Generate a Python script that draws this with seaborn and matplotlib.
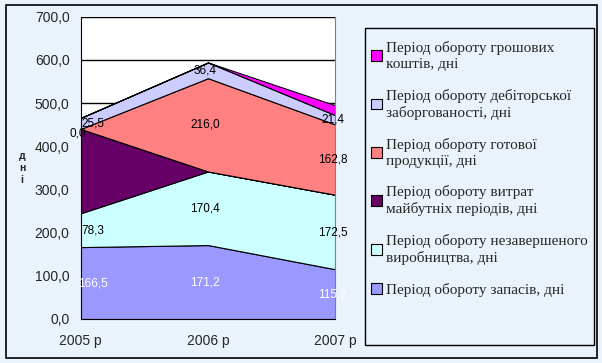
import matplotlib
matplotlib.use("Agg")
import matplotlib.pyplot as plt
from matplotlib.patches import Rectangle, Patch
import seaborn as sns
import numpy as np

# Data (bottom to top of the stack)
years = ["2005 р", "2006 р", "2007 р"]
zapasy = [166.5, 171.2, 115.2]
nezav = [78.3, 170.4, 172.5]
vytraty = [195.3, 0.0, 0.0]
gotova = [0.0, 216.0, 162.8]
debit = [25.5, 36.4, 21.4]
groshi = [0.0, 0.0, 23.0]

names = [
    "Період обороту запасів, дні",
    "Період обороту незавершеного\nвиробництва, дні",
    "Період обороту витрат\nмайбутніх періодів, дні",
    "Період обороту готової\nпродукції, дні",
    "Період обороту дебіторської\nзаборгованості, дні",
    "Період обороту грошових\nкоштів, дні",
]
colors = ["#9999FF", "#CCFFFF", "#660066", "#FF8080", "#CCCCFF", "#FF00FF"]
series = [zapasy, nezav, vytraty, gotova, debit, groshi]
# which series get value labels, and in which colour
label_colors = ["white", "black", None, "black", "black", None]

sns.set_style("white")
plt.rcParams["font.family"] = ["Liberation Sans", "DejaVu Sans"]

bg = "#EAF2FB"
fig = plt.figure(figsize=(6.02, 3.63), dpi=100, facecolor=bg)
W, H = 602, 363
ax = fig.add_axes([80.7 / W, 1 - 319 / H, (335.3 - 80.7) / W, (319 - 16.7) / H])
ax.set_facecolor("white")

x = np.arange(len(years))
ax.stackplot(x, *series, colors=colors, edgecolor="black", linewidth=0.8, zorder=2)

ax.set_xlim(0, 2)
ax.set_ylim(0, 700)
ax.set_yticks(np.arange(0, 701, 100))
ax.set_yticklabels([f"{v:.1f}".replace(".", ",") for v in np.arange(0, 701, 100)], fontsize=10)
ax.set_xticks(x)
ax.set_xticklabels(years, fontsize=10)
ax.tick_params(axis="both", direction="out", length=5, width=1, color="black", pad=3)
ax.tick_params(axis="x", pad=6)
for v in range(100, 701, 100):
    ax.axhline(v, color="black", lw=1, zorder=1)
ax.spines["top"].set_visible(False)
ax.spines["right"].set_color("#808080")
ax.spines["left"].set_color("black")
ax.spines["bottom"].set_color("black")
ax.spines["left"].set_zorder(3)
ax.spines["bottom"].set_zorder(3)

# value labels in the middle of each band
bottom = np.zeros(3)
for vals, lc in zip(series, label_colors):
    vals = np.array(vals)
    mid = bottom + vals / 2
    if lc is not None:
        for i in range(3):
            if vals[i] == 0 and i > 0:
                continue
            dx = 9 if (i == 0 and vals[i] > 0) else -2
            dy = 0 if vals[i] > 0 else -3
            ax.annotate(f"{vals[i]:.1f}".replace(".", ","), (x[i], mid[i]),
                        xytext=(dx, dy), textcoords="offset points",
                        ha="center", va="center", fontsize=8.5, color=lc,
                        zorder=5, annotation_clip=False)
    bottom = bottom + vals

# y label as stacked letters
fig.text(22 / W, 1 - 168 / H, "д\nн\nі", ha="center", va="center",
         fontsize=7.5, fontweight="bold", linespacing=1.3)

# legend box
fig.patches.append(Rectangle((365 / W, 1 - 345 / H), (594 - 365) / W, (345 - 28) / H,
                             transform=fig.transFigure, facecolor=bg,
                             edgecolor="black", lw=1))
handles = [Patch(facecolor=c, edgecolor="black", lw=0.8) for c in colors][::-1]
leg = fig.legend(handles, names[::-1], loc="upper left",
                 bbox_to_anchor=(365 / W, 1 - 35 / H), frameon=False,
                 prop={"family": "Liberation Serif", "size": 11},
                 handlelength=0.7, handleheight=0.7, handletextpad=0.25,
                 labelspacing=1.15, borderaxespad=0)
for t in leg.get_texts():
    t.set_linespacing(1.3)

# outer frame
fig.patches.append(Rectangle((6 / W, 1 - 358 / H), 591 / W, 353 / H,
                             transform=fig.transFigure, facecolor="none",
                             edgecolor="black", lw=1.2))

fig.savefig("out.png", dpi=100, facecolor=bg)
